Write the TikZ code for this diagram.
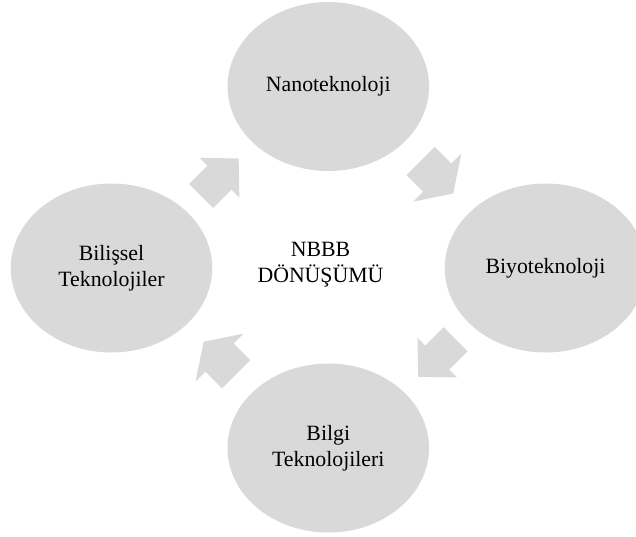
\documentclass[tikz,border=0pt]{standalone}
\usepackage{fontspec}
\setmainfont{Liberation Serif}
\usetikzlibrary{shapes.geometric,calc}

\definecolor{cyclegray}{HTML}{D9D9D9}

\tikzset{
  stage/.style={ellipse, fill=cyclegray, minimum width=201.5pt, minimum height=169pt,
    inner sep=0pt, align=center, text=black, font=\fontsize{21.8}{26.3}\selectfont},
  hub/.style={align=center, inner sep=0pt, text=black, font=\fontsize{21.8}{26.3}\selectfont},
  arrowfill/.style={fill=cyclegray}
}

% Block arrow centred on #1, pointing at angle #2;
% #3 total length, #4 head width, #5 head length, #6 shaft width
\newcommand\cyclearrow[6]{%
  \fill[arrowfill, shift={(#1)}, rotate=#2]
    ({-#3/2},{-#6/2}) -- ({#3/2-#5},{-#6/2}) -- ({#3/2-#5},{-#4/2})
    -- ({#3/2},0) -- ({#3/2-#5},{#4/2}) -- ({#3/2-#5},{#6/2})
    -- ({-#3/2},{#6/2}) -- cycle;}

\begin{document}
\begin{tikzpicture}[x=1pt,y=-1pt]
  \clip (0,0) rectangle (636,536);

  % the four stages of the cycle
  \node[stage] (T) at (328.3,86.5) {Nanoteknoloji};
  \node[stage] (R) at (545.5,268) {Biyoteknoloji};
  \node[stage] (B) at (328.3,448) {Bilgi\\Teknolojileri};
  \node[stage] (L) at (111.5,268) {Bilişsel\\Teknolojiler};

  % centre caption
  \node[hub] (C) at (320.5,265) {NBBB\\DÖNÜŞÜMÜ};

  % arrows between neighbouring stages
  \coordinate (aLT) at ($(L)!0.5!(T)$);
  \coordinate (aTR) at ($(T)!0.5!(R)$);
  \coordinate (aRB) at ($(R)!0.5!(B)$);
  \coordinate (aBL) at ($(B)!0.5!(L)$);

  \cyclearrow{aLT}{45}{53}{56}{27}{34}
  \cyclearrow{aTR}{-45}{46}{68}{22.5}{40}
  \cyclearrow{aRB}{-135}{53}{56}{27}{34}
  \cyclearrow{aBL}{135}{46}{68}{22.5}{40}
\end{tikzpicture}
\end{document}
